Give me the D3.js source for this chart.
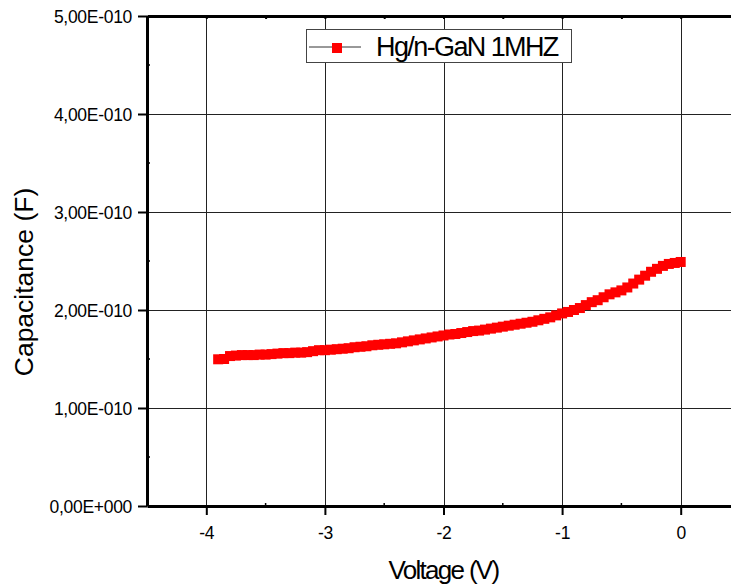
<!DOCTYPE html>
<html>
<head>
<meta charset="utf-8">
<script src="https://cdnjs.cloudflare.com/ajax/libs/d3/7.8.5/d3.min.js"></script>
<style>
  html, body { margin: 0; padding: 0; background: #fff; }
  svg { display: block; font-family: "Liberation Sans", Arial, sans-serif; }
</style>
</head>
<body>
<div id="chart"></div>
<script>
// C-V sweep, Hg/n-GaN at 1 MHz
var voltage = [
  -3.90, -3.85, -3.80, -3.75, -3.70, -3.65, -3.60, -3.55, -3.50, -3.45,
  -3.40, -3.35, -3.30, -3.25, -3.20, -3.15, -3.10, -3.05, -3.00, -2.95,
  -2.90, -2.85, -2.80, -2.75, -2.70, -2.65, -2.60, -2.55, -2.50, -2.45,
  -2.40, -2.35, -2.30, -2.25, -2.20, -2.15, -2.10, -2.05, -2.00, -1.95,
  -1.90, -1.85, -1.80, -1.75, -1.70, -1.65, -1.60, -1.55, -1.50, -1.45,
  -1.40, -1.35, -1.30, -1.25, -1.20, -1.15, -1.10, -1.05, -1.00, -0.95,
  -0.90, -0.85, -0.80, -0.75, -0.70, -0.65, -0.60, -0.55, -0.50, -0.45,
  -0.40, -0.35, -0.30, -0.25, -0.20, -0.15, -0.10, -0.05, 0.00
];
// capacitance in units of 1E-10 F
var capacitance = [
  1.497, 1.50, 1.53, 1.535, 1.54, 1.54, 1.54, 1.545, 1.545, 1.55,
  1.555, 1.56, 1.56, 1.565, 1.565, 1.57, 1.58, 1.59, 1.59, 1.595,
  1.60, 1.605, 1.61, 1.62, 1.625, 1.63, 1.64, 1.645, 1.65, 1.655,
  1.66, 1.67, 1.68, 1.69, 1.70, 1.71, 1.72, 1.73, 1.74, 1.75,
  1.755, 1.765, 1.775, 1.785, 1.79, 1.80, 1.81, 1.82, 1.83, 1.84,
  1.85, 1.86, 1.87, 1.88, 1.895, 1.91, 1.925, 1.945, 1.965, 1.98,
  2.00, 2.02, 2.05, 2.08, 2.10, 2.13, 2.16, 2.18, 2.20, 2.23,
  2.27, 2.31, 2.35, 2.39, 2.42, 2.45, 2.47, 2.48, 2.49
];

var xTicks = [-4, -3, -2, -1, 0];
var xTickLabels = ['-4', '-3', '-2', '-1', '0'];
var xMinorTicks = [-4.5, -3.5, -2.5, -1.5, -0.5];
var yTicks = [0, 1, 2, 3, 4, 5];
var yTickLabels = ['0,00E+000', '1,00E-010', '2,00E-010', '3,00E-010', '4,00E-010', '5,00E-010'];
var yMinorTicks = [0.5, 1.5, 2.5, 3.5, 4.5];
var seriesName = 'Hg/n-GaN 1MHZ';

var width = 731, height = 587;
// note: "top" is taken by window.top, so plot edges get their own names
var plotLeft = 147, plotTop = 16, plotBottom = 506;

var svg = d3.select('#chart').append('svg')
  .attr('width', width)
  .attr('height', height);

var x = d3.scaleLinear().domain([-4.5, 0.5]).range([plotLeft, 740]);
var y = d3.scaleLinear().domain([0, 5]).range([plotBottom, plotTop]);

var points = voltage.map(function(v, i) { return { v: v, c: capacitance[i] }; });

// grid
var grid = svg.append('g').attr('class', 'grid');
grid.selectAll('line.gx').data(xTicks).enter().append('line')
  .attr('class', 'gx')
  .attr('x1', function(d) { return Math.round(x(d)) + 0.5; })
  .attr('x2', function(d) { return Math.round(x(d)) + 0.5; })
  .attr('y1', plotTop).attr('y2', plotBottom)
  .attr('stroke', '#222').attr('stroke-width', 1);
grid.selectAll('line.gy').data(yTicks.slice(1, 5)).enter().append('line')
  .attr('class', 'gy')
  .attr('x1', plotLeft).attr('x2', width)
  .attr('y1', function(d) { return Math.round(y(d)) + 0.5; })
  .attr('y2', function(d) { return Math.round(y(d)) + 0.5; })
  .attr('stroke', '#222').attr('stroke-width', 1);

// series: thin line + square markers
svg.append('path')
  .datum(points)
  .attr('fill', 'none')
  .attr('stroke', '#ff0000')
  .attr('stroke-width', 1)
  .attr('d', d3.line().x(function(d) { return x(d.v); }).y(function(d) { return y(d.c); }));

var m = 10;
svg.selectAll('rect.pt').data(points).enter().append('rect')
  .attr('class', 'pt')
  .attr('x', function(d) { return x(d.v) - m / 2; })
  .attr('y', function(d) { return y(d.c) - m / 2; })
  .attr('width', m).attr('height', m)
  .attr('fill', '#ff0000');

// axes
var xAxis = d3.axisBottom(x)
  .tickValues(xTicks)
  .tickFormat(function(d, i) { return xTickLabels[i]; })
  .tickSize(9).tickSizeOuter(0).tickPadding(12);
var gx = svg.append('g').attr('transform', 'translate(0,' + plotBottom + ')').call(xAxis);

var yAxis = d3.axisLeft(y)
  .tickValues(yTicks)
  .tickFormat(function(d, i) { return yTickLabels[i]; })
  .tickSize(9).tickSizeOuter(0).tickPadding(6);
var gy = svg.append('g').attr('transform', 'translate(' + plotLeft + ',0)').call(yAxis);

var gTop = svg.append('g').attr('transform', 'translate(0,' + plotTop + ')')
  .call(d3.axisTop(x).tickValues(xTicks.concat(xMinorTicks)).tickSize(-3).tickSizeOuter(0).tickFormat(''));

[gx, gy, gTop].forEach(function(g) {
  g.select('.domain').attr('stroke', '#000').attr('stroke-width', 3);
  g.selectAll('.tick line').attr('stroke', '#000').attr('stroke-width', 2);
  g.selectAll('.tick text')
    .attr('fill', '#000')
    .style('font-size', '17.5px')
    .style('letter-spacing', '-0.3px')
    .style('font-family', '"Liberation Sans", Arial, sans-serif');
});
gx.selectAll('.tick text').attr('dy', '0.71em');
gy.selectAll('.tick text').attr('dy', '0.36em');

// minor ticks on left and bottom (short, inward)
svg.selectAll('line.mx').data(xMinorTicks).enter().append('line')
  .attr('class', 'mx')
  .attr('x1', function(d) { return x(d); }).attr('x2', function(d) { return x(d); })
  .attr('y1', plotBottom).attr('y2', plotBottom - 3)
  .attr('stroke', '#000').attr('stroke-width', 1.5);
svg.selectAll('line.my').data(yMinorTicks).enter().append('line')
  .attr('class', 'my')
  .attr('x1', plotLeft).attr('x2', plotLeft + 3)
  .attr('y1', function(d) { return y(d); }).attr('y2', function(d) { return y(d); })
  .attr('stroke', '#000').attr('stroke-width', 1.5);

// axis titles
svg.append('text')
  .attr('x', x(-2)).attr('y', 579)
  .attr('text-anchor', 'middle')
  .style('font-size', '26px')
  .style('letter-spacing', '-1.7px')
  .text('Voltage (V)');

svg.append('text')
  .attr('transform', 'translate(33,282) rotate(-90)')
  .attr('text-anchor', 'middle')
  .style('font-size', '26.5px')
  .text('Capacitance (F)');

// legend
var legend = svg.append('g').attr('class', 'legend');
legend.append('rect')
  .attr('x', 306.5).attr('y', 29.5)
  .attr('width', 265).attr('height', 33)
  .attr('fill', '#fff').attr('stroke', '#444').attr('stroke-width', 1);
legend.append('line')
  .attr('x1', 309).attr('x2', 361).attr('y1', 47).attr('y2', 47)
  .attr('stroke', '#333').attr('stroke-width', 1);
legend.append('rect')
  .attr('x', 332).attr('y', 43).attr('width', 10).attr('height', 10)
  .attr('fill', '#ff0000');
legend.append('text')
  .attr('x', 376).attr('y', 56)
  .style('font-size', '27px')
  .style('letter-spacing', '-1.6px')
  .text(seriesName);
</script>
</body>
</html>
